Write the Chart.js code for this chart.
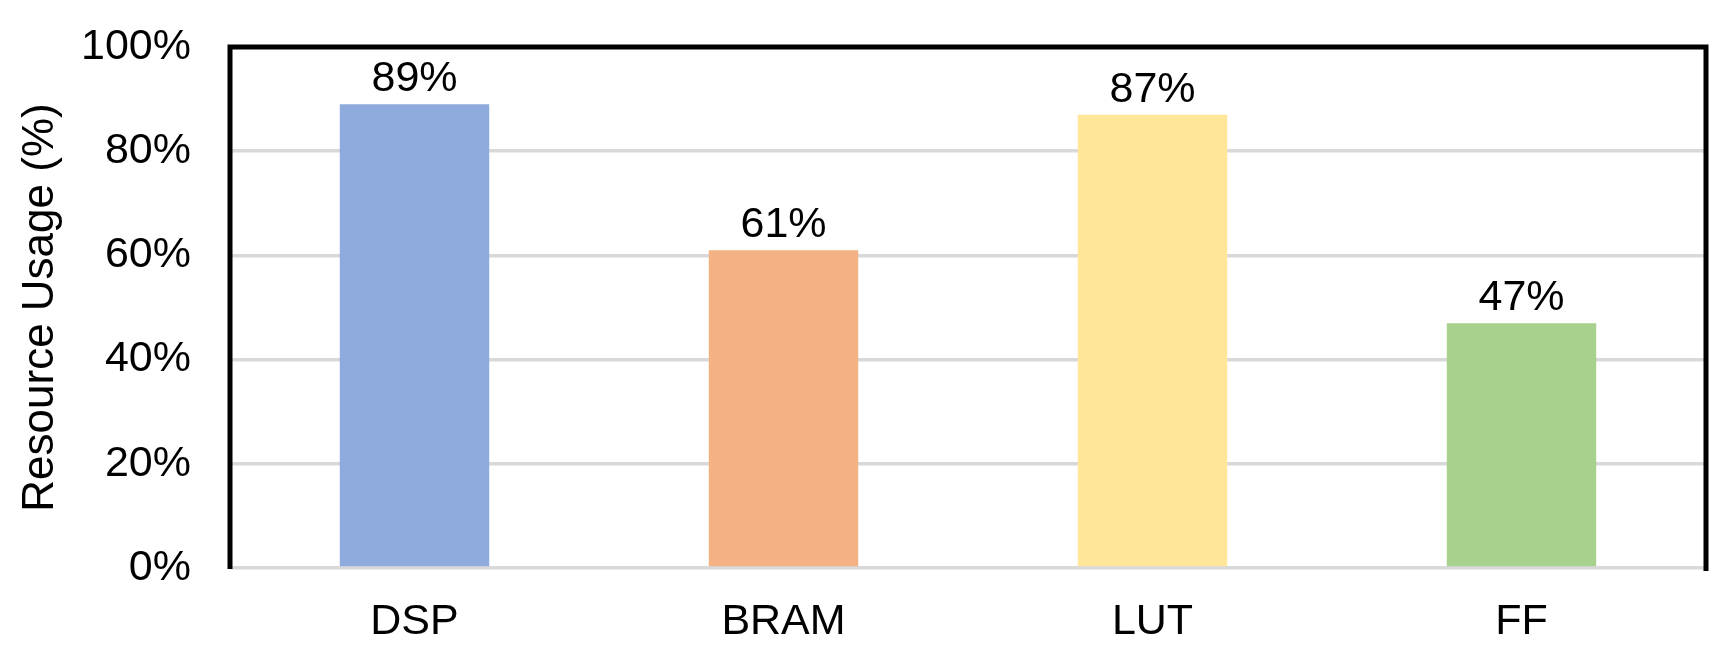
<!DOCTYPE html>
<html>
<head>
<meta charset="utf-8">
<script src="https://cdn.jsdelivr.net/npm/chart.js@4/dist/chart.umd.min.js"></script>
<style>
  body { margin: 0; background: #fff; }
  #wrap { width: 1726px; height: 663px; }
</style>
</head>
<body>
<div id="wrap"><canvas id="chart"></canvas></div>
<script>
// data
const categories = ['DSP', 'BRAM', 'LUT', 'FF'];
const usage = [89, 61, 87, 47];
const yTicks = [0, 20, 40, 60, 80, 100];

const barColors = ['#8FAADC', '#F4B183', '#FFE699', '#A9D18E'];
const FONT = "'Liberation Sans', Arial, sans-serif";

// value labels above bars
const valueLabels = {
  id: 'valueLabels',
  afterDatasetsDraw(chart) {
    const ctx = chart.ctx;
    const meta = chart.getDatasetMeta(0);
    ctx.save();
    ctx.font = '43px ' + FONT;
    ctx.fillStyle = '#000';
    ctx.textAlign = 'center';
    ctx.textBaseline = 'alphabetic';
    meta.data.forEach((bar, i) => {
      ctx.fillText(usage[i] + '%', bar.x, bar.y - 13);
    });
    ctx.restore();
  }
};

// black frame on top, left and right of the plot area
const frame = {
  id: 'frame',
  afterDraw(chart) {
    const { left, right, top, bottom } = chart.chartArea;
    const ctx = chart.ctx;
    ctx.save();
    ctx.strokeStyle = '#000';
    ctx.lineWidth = 5;
    ctx.lineCap = 'butt';
    ctx.beginPath();
    ctx.moveTo(left, bottom + 1);
    ctx.lineTo(left, top);
    ctx.lineTo(right, top);
    ctx.lineTo(right, bottom + 3);
    ctx.stroke();
    ctx.restore();
  }
};

const ctx = document.getElementById('chart').getContext('2d');
new Chart(ctx, {
  type: 'bar',
  data: {
    labels: categories,
    datasets: [{
      label: 'Resource Usage',
      data: usage,
      backgroundColor: barColors,
      borderWidth: 0,
      barPercentage: 0.405,
      categoryPercentage: 1
    }]
  },
  options: {
    responsive: true,
    maintainAspectRatio: false,
    animation: false,
    layout: { padding: { top: 47, right: 20, left: 0, bottom: 0 } },
    plugins: {
      legend: { display: false },
      tooltip: { enabled: false }
    },
    scales: {
      x: {
        grid: { display: false, drawTicks: false },
        border: { display: false },
        ticks: {
          color: '#000',
          padding: 28,
          font: { family: FONT, size: 43 }
        },
        afterFit(scale) {
          scale.height = 95;
          scale.paddingLeft = 0;
          scale.paddingRight = 0;
        }
      },
      y: {
        min: 0,
        max: 100,
        afterBuildTicks(scale) { scale.ticks = yTicks.map(v => ({ value: v })); },
        grid: { color: '#D9D9D9', lineWidth: 3.5, drawTicks: false },
        border: { display: false },
        ticks: {
          color: '#000',
          padding: 39,
          font: { family: FONT, size: 43 },
          callback: v => v + '%'
        },
        title: {
          display: true,
          text: 'Resource Usage (%)',
          color: '#000',
          padding: { top: 14, bottom: 0 },
          font: { family: FONT, size: 44 }
        },
        afterFit(scale) {
          scale.width = 230;
          scale.paddingTop = 0;
          scale.paddingBottom = 0;
        }
      }
    }
  },
  plugins: [valueLabels, frame]
});
</script>
</body>
</html>
